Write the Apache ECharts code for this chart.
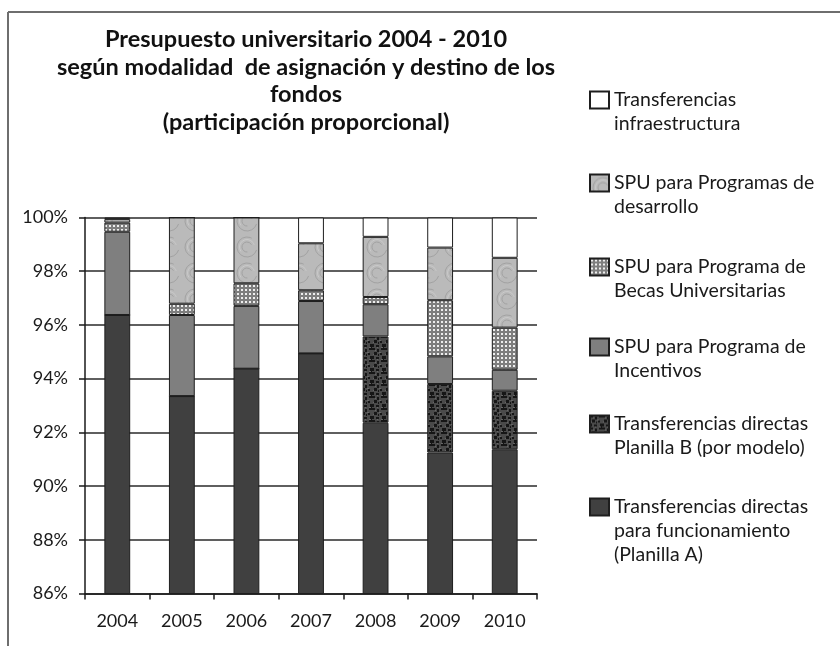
<!DOCTYPE html>
<html>
<head>
<meta charset="utf-8">
<script src="https://cdn.jsdelivr.net/npm/echarts@6/dist/echarts.min.js"></script>
<style>
html,body{margin:0;padding:0;background:#fff;}
#chart{width:840px;height:646px;}
</style>
</head>
<body>
<div id="chart"></div>
<script>
// ---- data (percent share of each year's budget) ----
const years = ['2004','2005','2006','2007','2008','2009','2010'];
const planillaA   = [96.37, 93.35, 94.37, 94.94, 92.36, 91.25, 91.37];
const planillaB   = [0, 0, 0, 0, 3.21, 2.55, 2.18];
const incentivos  = [3.10, 3.02, 2.34, 1.95, 1.20, 1.03, 0.78];
const becas       = [0.34, 0.42, 0.84, 0.40, 0.27, 2.09, 1.57];
const desarrollo  = [0.13, 3.21, 2.45, 1.75, 2.24, 1.96, 2.60];
const infra       = [0.06, 0, 0, 0.96, 0.72, 1.12, 1.50];
const seriesNames = [
  'Transferencias directas\npara funcionamiento\n(Planilla A)',
  'Transferencias directas\nPlanilla B (por modelo)',
  'SPU para Programa de\nIncentivos',
  'SPU para Programa de\nBecas Universitarias',
  'SPU para Programas de\ndesarrollo',
  'Transferencias\ninfraestructura'
];
const yTicks = ['86%','88%','90%','92%','94%','96%','98%','100%'];

// ---- texture patterns (style only) ----
function pattern(w, h, draw) {
  const c = document.createElement('canvas');
  c.width = w; c.height = h;
  draw(c.getContext('2d'), w, h);
  return { image: c, repeat: 'repeat' };
}
const texB = pattern(12, 12, (g, w, h) => {
  g.fillStyle = '#4a4a4a'; g.fillRect(0, 0, w, h);
  g.fillStyle = '#161616';
  const spots = [[0,0,3,2],[5,1,2,3],[9,0,3,2],[2,4,3,3],[8,5,2,2],[0,8,2,3],[4,9,3,2],[10,8,2,4],[6,6,1,2]];
  spots.forEach(s => g.fillRect(s[0], s[1], s[2], s[3]));
  g.fillStyle = '#666666';
  [[3,2,1,1],[7,4,2,1],[1,6,1,1],[9,11,2,1],[5,11,1,1]].forEach(s => g.fillRect(s[0], s[1], s[2], s[3]));
});
const texBecas = pattern(4, 4, (g, w, h) => {
  g.fillStyle = '#7e7e7e'; g.fillRect(0, 0, w, h);
  g.fillStyle = '#eeeeee'; g.fillRect(1, 1, 2, 2);
});
const texDes = pattern(26, 26, (g, w, h) => {
  g.fillStyle = '#bababa'; g.fillRect(0, 0, w, h);
  g.strokeStyle = '#a2a2a2'; g.lineWidth = 1;
  g.beginPath(); g.arc(13, 13, 10, 0.3, 5.2); g.stroke();
  g.beginPath(); g.arc(13, 13, 5, 1.5, 5.8); g.stroke();
  g.strokeStyle = '#cacaca';
  g.beginPath(); g.arc(13, 13, 7.5, 2.5, 6.0); g.stroke();
});

const fills = ['#404040', texB, '#7f7f7f', texBecas, texDes, '#ffffff'];
const values = [planillaA, planillaB, incentivos, becas, desarrollo, infra];

const FONT = 'Lato';
const series = seriesNames.map((name, i) => ({
  name: name,
  type: 'bar',
  stack: 'total',
  barWidth: '40%',
  data: values[i],
  itemStyle: { color: fills[i], borderColor: '#1e1e1e', borderWidth: 1 },
  emphasis: { disabled: true }
}));

// legend: one component per entry, top-to-bottom order; icon aligned with first text line
const legendOrder = [5, 4, 3, 2, 1, 0];
const iconCenters = [100, 183, 267, 347, 424, 507];
const LH = 24;
const legends = legendOrder.map((si, k) => {
  const n = seriesNames[si].split('\n').length;
  const top = iconCenters[k] - Math.max(8.5, (2 * n - 1) * LH / 2);
  return {
    data: [{ name: seriesNames[si], icon: 'rect' }],
    orient: 'vertical',
    left: 589,
    top: top,
    padding: 0,
    itemWidth: 19,
    itemHeight: 17,
    itemGap: 6,
    selectedMode: false,
    formatter: nm => '\n'.repeat(n - 1) + nm,
    textStyle: { fontFamily: FONT, fontSize: 19.5, color: '#1a1a1a', lineHeight: LH }
  };
});

const chart = echarts.init(document.getElementById('chart'), null, { renderer: 'canvas' });
chart.setOption({
  backgroundColor: '#ffffff',
  animation: false,
  title: {
    text: 'Presupuesto universitario 2004 - 2010\nsegún modalidad  de asignación y destino de los\nfondos\n(participación proporcional)',
    left: 301,
    top: 21,
    textAlign: 'center',
    textStyle: { fontFamily: FONT, fontSize: 23.5, fontWeight: 'bold', color: '#111', lineHeight: 27.5 }
  },
  legend: legends,
  grid: { left: 85, right: 840 - 537, top: 217.5, bottom: 646 - 593.5, containLabel: false },
  xAxis: {
    type: 'category',
    data: years,
    axisLine: { lineStyle: { color: '#1a1a1a', width: 1.5 } },
    axisTick: { show: true, alignWithLabel: false, interval: 0, length: 6, lineStyle: { color: '#1a1a1a', width: 1.5 } },
    axisLabel: { fontFamily: FONT, fontSize: 18, color: '#1a1a1a', margin: 19 }
  },
  yAxis: {
    type: 'value',
    min: 86,
    max: 100,
    interval: 2,
    axisLine: { show: true, lineStyle: { color: '#1a1a1a', width: 1.5 } },
    axisTick: { show: true, length: 6, lineStyle: { color: '#1a1a1a', width: 1.5 } },
    splitLine: { show: true, lineStyle: { color: '#2a2a2a', width: 1.5 } },
    axisLabel: {
      fontFamily: FONT, fontSize: 18, color: '#1a1a1a', margin: 17,
      formatter: v => yTicks[Math.round((v - 86) / 2)]
    }
  },
  series: series,
  graphic: [
    { type: 'line', shape: { x1: 8, y1: 12, x2: 840, y2: 12 }, style: { stroke: '#6e6e6e', lineWidth: 2 }, silent: true },
    { type: 'line', shape: { x1: 8, y1: 12, x2: 8, y2: 646 }, style: { stroke: '#6e6e6e', lineWidth: 2 }, silent: true }
  ]
});
</script>
</body>
</html>
